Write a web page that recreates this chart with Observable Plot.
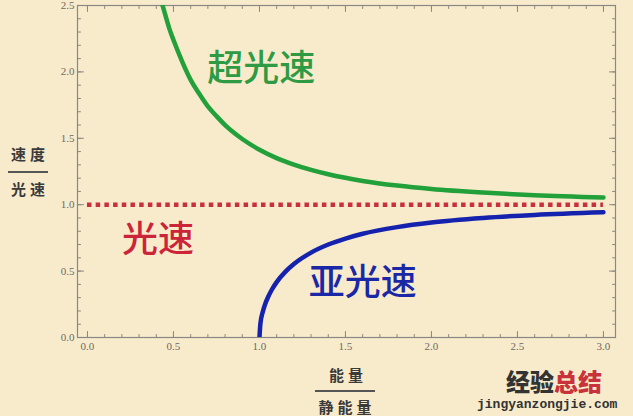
<!DOCTYPE html>
<html>
<head>
<meta charset="utf-8">
<script src="https://cdn.jsdelivr.net/npm/d3@7"></script>
<script src="https://cdn.jsdelivr.net/npm/@observablehq/plot@0.6"></script>
<style>
  html, body { margin: 0; padding: 0; background: #F8EBCC; }
  #wrap { position: relative; width: 633px; height: 416px; overflow: hidden; background: #F8EBCC; }
  #chart { position: absolute; left: 0; top: 0; }
  .frac { position: absolute; font-family: "Noto Sans CJK SC", sans-serif; font-weight: 700; font-size: 15px; color: #3a3a3a; text-align: center; letter-spacing: 4px; line-height: 1; }
  .bar { position: absolute; height: 1.5px; background: #555; }
  .wm1 { position: absolute; font-family: "Noto Sans CJK SC", sans-serif; font-weight: 900; font-size: 24px; line-height: 24px; height: 24px; color: #333; }
  .wm2 { position: absolute; font-family: "Liberation Mono", monospace; font-weight: 700; font-size: 13px; line-height: 13px; color: #333; }
</style>
</head>
<body>
<div id="wrap">
  <div id="chart"></div>
  <div class="frac" style="left:8px; top:146px; width:44px;">速度</div>
  <div class="bar" style="left:8px; top:171px; width:40px;"></div>
  <div class="frac" style="left:8px; top:181px; width:44px;">光速</div>
  <div class="frac" style="left:322px; top:367px; width:52px;">能量</div>
  <div class="bar" style="left:315px; top:390px; width:60px;"></div>
  <div class="frac" style="left:314px; top:399px; width:66px;">静能量</div>
  <div class="wm1" style="left:506px; top:369px;">经验<span style="color:#C8323A">总结</span></div>
  <div class="wm2" style="left:477px; top:398px;">jingyanzongjie.com</div>
</div>
<script>
// Superluminal branch (green)
const energyGreen = [0.43, 0.45, 0.475, 0.5, 0.55, 0.6, 0.65, 0.7, 0.75, 0.8, 0.85, 0.9, 1.0, 1.1, 1.2, 1.3, 1.4, 1.6, 1.8, 2.0, 2.3, 2.6, 3.0];
const speedGreen  = [2.53, 2.44, 2.33, 2.24, 2.08, 1.94, 1.835, 1.74, 1.667, 1.60, 1.544, 1.495, 1.414, 1.351, 1.302, 1.262, 1.229, 1.179, 1.144, 1.118, 1.091, 1.071, 1.054];
// Subluminal branch (blue)
const energyBlue = [1.0, 1.005, 1.02, 1.03, 1.05, 1.07, 1.1, 1.15, 1.2, 1.3, 1.4, 1.5, 1.6, 1.8, 2.0, 2.3, 2.6, 3.0];
const speedBlue  = [0.0, 0.10, 0.197, 0.24, 0.305, 0.356, 0.417, 0.494, 0.553, 0.639, 0.700, 0.745, 0.781, 0.831, 0.866, 0.900, 0.923, 0.943];
// Speed of light (red dotted)
const lightSpeed = [1.0];
const lightEnergyRange = [0, 3];
// Tick labels
const xTicks = [0, 0.5, 1.0, 1.5, 2.0, 2.5, 3.0];
const yTicks = [0, 0.5, 1.0, 1.5, 2.0, 2.5];
const xMinor = d3.range(0, 31).map(i => i / 10);
const yMinor = d3.range(0, 26).map(i => i / 10);
// Curve labels
const labelText = ["超光速", "光速", "亚光速"];
const labelX = [1.01, 0.41, 1.60];
const labelY = [2.02, 0.73, 0.41];
const labelColor = ["#2E9B44", "#CC2438", "#1A27A6"];

const green = energyGreen.map((e, i) => ({e, v: speedGreen[i]}));
const blue = energyBlue.map((e, i) => ({e, v: speedBlue[i]}));
const labels = labelText.map((t, i) => ({t, x: labelX[i], y: labelY[i], c: labelColor[i]}));

const tickShape = {draw(ctx, l) { ctx.moveTo(0, 0); ctx.lineTo(0, -l); }};
const tickColor = "#8b8782";
function ticksOn(data, axis, anchor, rotate, len) {
  const o = {frameAnchor: anchor, rotate, length: len, anchor: "start", shape: tickShape, stroke: tickColor, strokeWidth: 1};
  o[axis] = d => d;
  return Plot.vector(data, o);
}

const fmt = d3.format(".1f");
const chart = Plot.plot({
  width: 633,
  height: 416,
  marginLeft: 77,
  marginRight: 18,
  marginTop: 5,
  marginBottom: 79,
  style: {background: "transparent", overflow: "visible"},
  x: {domain: [-0.058, 3.07]},
  y: {domain: [0, 2.5]},
  marks: [
    Plot.frame({stroke: tickColor, strokeWidth: 1.2}),
    ticksOn(xMinor, "x", "bottom", 0, 3),
    ticksOn(xTicks, "x", "bottom", 0, 6),
    ticksOn(xMinor, "x", "top", 180, 3),
    ticksOn(xTicks, "x", "top", 180, 6),
    ticksOn(yMinor, "y", "left", 90, 3),
    ticksOn(yTicks, "y", "left", 90, 6),
    ticksOn(yMinor, "y", "right", -90, 3),
    ticksOn(yTicks, "y", "right", -90, 6),
    Plot.axisX(xTicks, {tickSize: 0, tickPadding: 5, tickFormat: fmt, fontFamily: "Liberation Serif", fontSize: 11, fill: "#6e6a66", label: null}),
    Plot.axisY(yTicks, {tickSize: 0, tickPadding: 3, tickFormat: fmt, fontFamily: "Liberation Serif", fontSize: 11, fill: "#6e6a66", label: null}),
    Plot.ruleY(lightSpeed, {x1: lightEnergyRange[0], x2: lightEnergyRange[1], stroke: "#C8303E", strokeWidth: 4.5, strokeDasharray: "4.5,4.2"}),
    Plot.line(green, {x: "e", y: "v", stroke: "#22A03A", strokeWidth: 4.5, curve: "monotone-x", clip: true}),
    Plot.line(blue, {x: "e", y: "v", stroke: "#1422AE", strokeWidth: 4.5, curve: "monotone-x", clip: true}),
    Plot.text(labels, {x: "x", y: "y", text: "t", fill: "c", fontSize: 36, fontWeight: 500, fontFamily: "Noto Sans CJK SC"})
  ]
});
document.getElementById("chart").appendChild(chart);
</script>
</body>
</html>
